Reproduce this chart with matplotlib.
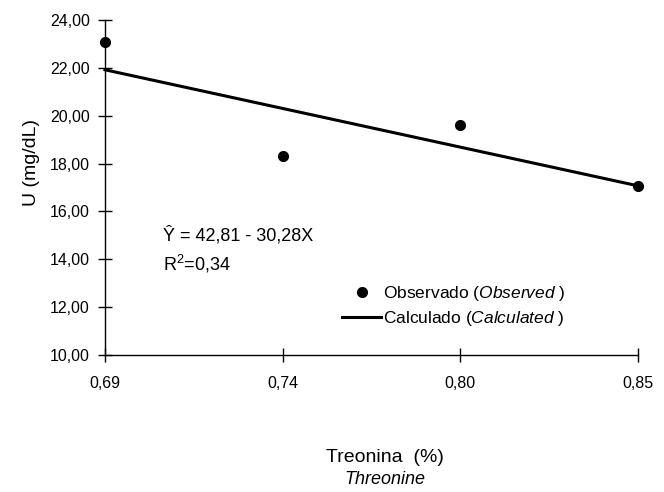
import numpy as np
import matplotlib.pyplot as plt

plt.rcParams['font.family'] = ['Liberation Sans', 'DejaVu Sans']
plt.rcParams['mathtext.fontset'] = 'custom'
plt.rcParams['mathtext.rm'] = 'Liberation Sans'
plt.rcParams['mathtext.it'] = 'Liberation Sans:italic'

treonina = ['0,69', '0,74', '0,80', '0,85']
observado = [23.08, 18.32, 19.61, 17.06]
# regression Y = 42,81 - 30,28X at the two ends
calc_pos = [0, 3]
calculado = [21.92, 17.07]
yticks = [10, 12, 14, 16, 18, 20, 22, 24]

fig = plt.figure(figsize=(6.64, 4.92), dpi=100)
ax = fig.add_axes([105/664, 1-355/492, (638-105)/664, 335/492])

pos = np.arange(len(treonina))
ax.plot(pos, observado, 'o', color='black', markersize=7, clip_on=False,
        label='Observado ($\\mathit{Observed}$ )')
ax.plot(calc_pos, calculado, '-', color='black', lw=2.2, clip_on=False,
        label='Calculado ($\\mathit{Calculated}$ )')

ax.set_xlim(0, 3)
ax.set_ylim(10, 24)
ax.set_xticks(pos)
ax.set_xticklabels(treonina)
ax.set_yticks(yticks)
ax.set_yticklabels(['%d,00' % v for v in yticks])
ax.spines['top'].set_visible(False)
ax.spines['right'].set_visible(False)
for s in ['left', 'bottom']:
    ax.spines[s].set_linewidth(1)
ax.tick_params(direction='inout', length=10, width=1, labelsize=11.5)
ax.tick_params(axis='x', pad=10)
ax.tick_params(axis='y', pad=6)

ax.set_ylabel('U (mg/dL)', fontsize=14)
ax.yaxis.set_label_coords((40-105)/533, (355-163)/335)

ax.text(163/664, 1-235/492, 'Ŷ = 42,81 - 30,28X', transform=fig.transFigure,
        fontsize=13, va='center', ha='left')
ax.text(163/664, 1-264/492, 'R$^2$=0,34', transform=fig.transFigure,
        fontsize=13, va='center', ha='left')

ax.legend(loc='center left', bbox_to_anchor=(342/664, 1-306/492),
          bbox_transform=fig.transFigure, frameon=False, fontsize=12.5,
          borderpad=0, borderaxespad=0, handlelength=2.25, handletextpad=0.1,
          labelspacing=0.38)

fig.text(385/664, 1-457/492, 'Treonina  (%)', fontsize=14, ha='center', va='center')
fig.text(385/664, 1-479/492, 'Threonine', fontsize=13, style='italic',
         ha='center', va='center')

fig.savefig('out.png', dpi=100)
